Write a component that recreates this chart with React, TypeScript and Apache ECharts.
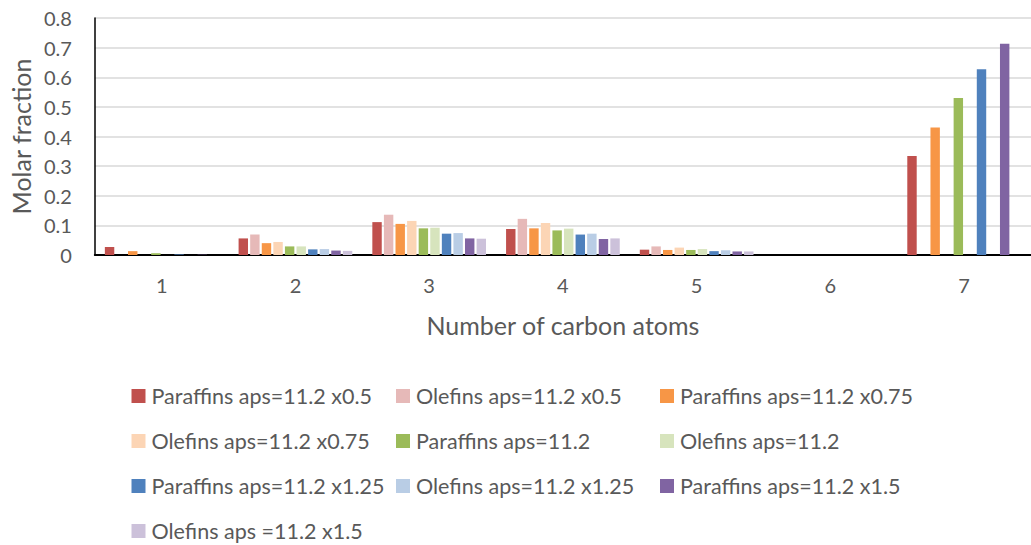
import React, { useEffect, useRef } from "react";
import * as echarts from "echarts";

const categories = ["1", "2", "3", "4", "5", "6", "7"];

const seriesNames = [
  "Paraffins aps=11.2 x0.5",
  "Olefins aps=11.2 x0.5",
  "Paraffins aps=11.2 x0.75",
  "Olefins aps=11.2 x0.75",
  "Paraffins aps=11.2",
  "Olefins aps=11.2",
  "Paraffins aps=11.2 x1.25",
  "Olefins aps=11.2 x1.25",
  "Paraffins aps=11.2 x1.5",
  "Olefins aps =11.2 x1.5",
];

const colors = [
  "#c0504d",
  "#e6b9b8",
  "#f79646",
  "#fcd5b5",
  "#9bbb59",
  "#d7e4bd",
  "#4f81bd",
  "#b9cde5",
  "#8064a2",
  "#ccc1da",
];

const paraffins05 = [0.027, 0.056, 0.111, 0.088, 0.018, 0, 0.334];
const olefins05 = [0, 0.069, 0.136, 0.122, 0.029, 0, 0];
const paraffins075 = [0.013, 0.04, 0.105, 0.09, 0.017, 0, 0.43];
const olefins075 = [0, 0.044, 0.115, 0.108, 0.025, 0, 0];
const paraffins1 = [0.006, 0.029, 0.09, 0.083, 0.017, 0, 0.53];
const olefins1 = [0, 0.029, 0.092, 0.089, 0.02, 0, 0];
const paraffins125 = [0.002, 0.019, 0.072, 0.069, 0.013, 0, 0.627];
const olefins125 = [0, 0.02, 0.074, 0.072, 0.016, 0, 0];
const paraffins15 = [0.001, 0.015, 0.056, 0.054, 0.012, 0, 0.713];
const olefins15 = [0, 0.014, 0.055, 0.056, 0.012, 0, 0];

const seriesData = [
  paraffins05,
  olefins05,
  paraffins075,
  olefins075,
  paraffins1,
  olefins1,
  paraffins125,
  olefins125,
  paraffins15,
  olefins15,
];

const FONT = "Lato";
const TEXT_COLOR = "#595959";

// legend grid: 3 columns, series laid out row by row
const legendColLefts = [131.5, 396, 660];
const legendRowCenters = [396, 441, 486, 531];

export default function App() {
  const ref = useRef<HTMLDivElement>(null);

  useEffect(() => {
    if (!ref.current) return;
    const chart = echarts.init(ref.current, undefined, { renderer: "svg" });
    const legends = seriesNames.map((name, i) => ({
      data: [name],
      orient: "horizontal",
      left: legendColLefts[i % 3],
      top: legendRowCenters[Math.floor(i / 3)] - 12,
      padding: 0,
      itemWidth: 14,
      itemHeight: 14,
      icon: "rect",
      selectedMode: false,
      textStyle: {
        fontFamily: FONT,
        fontSize: 21.5,
        color: TEXT_COLOR,
        lineHeight: 24,
        padding: [0, 0, 0, 1],
      },
    }));
    chart.setOption({
      animation: false,
      color: colors,
      textStyle: { fontFamily: FONT },
      grid: { left: 94.5, right: -8.5, top: 18, bottom: 290, containLabel: false },
      legend: legends,
      xAxis: {
        type: "category",
        data: categories,
        axisLine: { show: true, lineStyle: { color: "#000", width: 2 } },
        axisTick: { show: false },
        axisLabel: { fontSize: 20, color: TEXT_COLOR, margin: 20, fontFamily: FONT },
        name: "Number of carbon atoms",
        nameLocation: "middle",
        nameGap: 57,
        nameTextStyle: { fontSize: 25, color: TEXT_COLOR, fontFamily: FONT },
      },
      yAxis: {
        type: "value",
        min: 0,
        max: 0.8,
        interval: 0.1,
        axisLine: { show: true, lineStyle: { color: "#000", width: 1.5 } },
        axisTick: { show: false },
        axisLabel: { fontSize: 20, color: TEXT_COLOR, margin: 23, fontFamily: FONT },
        splitLine: { lineStyle: { color: "#d9d9d9", width: 1.5 } },
        name: "Molar fraction",
        nameLocation: "middle",
        nameGap: 61,
        nameTextStyle: { fontSize: 25, color: TEXT_COLOR, fontFamily: FONT },
      },
      series: seriesNames.map((name, i) => ({
        name,
        type: "bar",
        data: seriesData[i],
        barGap: "23%",
        barCategoryGap: "15%",
        itemStyle: { color: colors[i] },
      })),
    });
    return () => chart.dispose();
  }, []);

  return (
    <div
      ref={ref}
      style={{ position: "fixed", left: 0, top: 0, width: 1031, height: 545, background: "#fff" }}
    />
  );
}
